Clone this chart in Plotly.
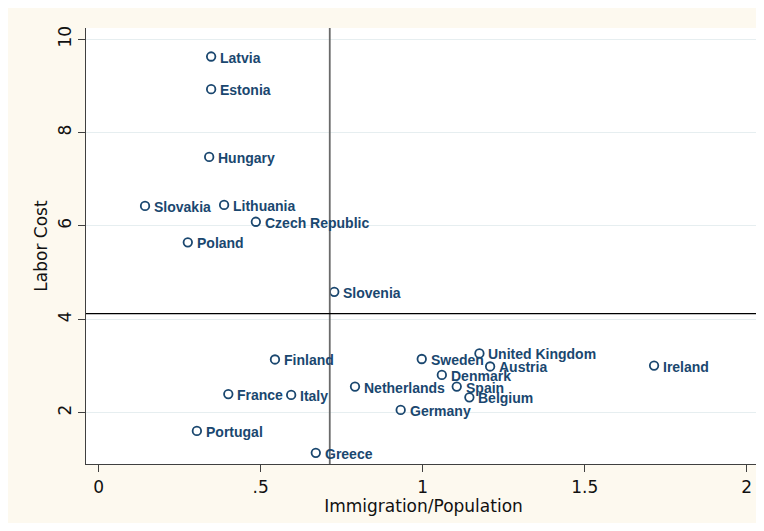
import numpy as np
import plotly.graph_objects as go

countries = ["Latvia", "Estonia", "Hungary", "Slovakia", "Lithuania", "Czech Republic",
             "Poland", "Slovenia", "Finland", "Sweden", "United Kingdom", "Austria",
             "Ireland", "Denmark", "Netherlands", "Spain", "Belgium", "France", "Italy",
             "Germany", "Portugal", "Greece"]
immigration = [0.347, 0.347, 0.341, 0.143, 0.387, 0.485, 0.275, 0.727, 0.544, 0.997,
               1.175, 1.208, 1.714, 1.059, 0.791, 1.105, 1.144, 0.400, 0.594, 0.932,
               0.303, 0.670]
labor_cost = [9.63, 8.93, 7.48, 6.43, 6.45, 6.09, 5.65, 4.59, 3.14, 3.15, 3.27, 2.99,
              3.01, 2.81, 2.56, 2.56, 2.33, 2.40, 2.38, 2.06, 1.61, 1.14]

x_ticks = [0, 0.5, 1, 1.5, 2]
x_ticktext = ["0", ".5", "1", "1.5", "2"]
y_ticks = [2, 4, 6, 8, 10]
y_ticktext = ["2", "4", "6", "8", "10"]

mean_x = float(np.mean(immigration))
mean_y = float(np.mean(labor_cost))

NAVY = "#1a476f"
CREAM = "#fdf9ef"
AXIS = "#404040"

fig = go.Figure()
fig.add_trace(go.Scatter(
    x=immigration, y=labor_cost, mode="markers",
    marker=dict(symbol="circle-open", size=8.5, color=NAVY, line=dict(width=1.8, color=NAVY)),
    hoverinfo="text", text=countries, showlegend=False,
))

for c, xv, yv in zip(countries, immigration, labor_cost):
    fig.add_annotation(x=xv, y=yv, text="<b>" + c + "</b>", showarrow=False,
                       xanchor="left", yanchor="middle", xshift=7, yshift=-1,
                       font=dict(family="Liberation Sans, Arial, sans-serif", size=14, color=NAVY))

shapes = [
    dict(type="line", xref="x", yref="paper", x0=mean_x, x1=mean_x, y0=0, y1=1,
         line=dict(color="#6a6a6a", width=1.8)),
    dict(type="line", xref="paper", yref="y", x0=0, x1=1, y0=mean_y, y1=mean_y,
         line=dict(color="black", width=1.2)),
]

axis_font = dict(family="DejaVu Sans, sans-serif", size=17, color="#111111")

fig.update_layout(
    width=756, height=515,
    margin=dict(l=78, r=3, t=20, b=59, pad=0, autoexpand=False),
    paper_bgcolor=CREAM, plot_bgcolor="white",
    shapes=shapes,
    xaxis=dict(range=[-0.0392, 2.044], tickvals=x_ticks, ticktext=x_ticktext, automargin=False,
               showgrid=False, zeroline=False, showline=True, linecolor=AXIS, linewidth=1.2,
               ticks="outside", ticklen=7, tickcolor=AXIS, tickwidth=1.2,
               tickfont=axis_font, title=dict(text="Immigration/Population", font=axis_font, standoff=3)),
    yaxis=dict(range=[0.901, 10.241], tickvals=y_ticks, ticktext=y_ticktext, tickangle=-90,
               automargin=False,
               showgrid=True, gridcolor="#e6eef0", gridwidth=1, zeroline=False,
               showline=True, linecolor=AXIS, linewidth=1.2,
               ticks="outside", ticklen=7, tickcolor=AXIS, tickwidth=1.2,
               tickfont=axis_font, title=dict(text="Labor Cost", font=axis_font, standoff=3)),
    font=axis_font,
)

fig.write_html("out.html", config={"responsive": False})
